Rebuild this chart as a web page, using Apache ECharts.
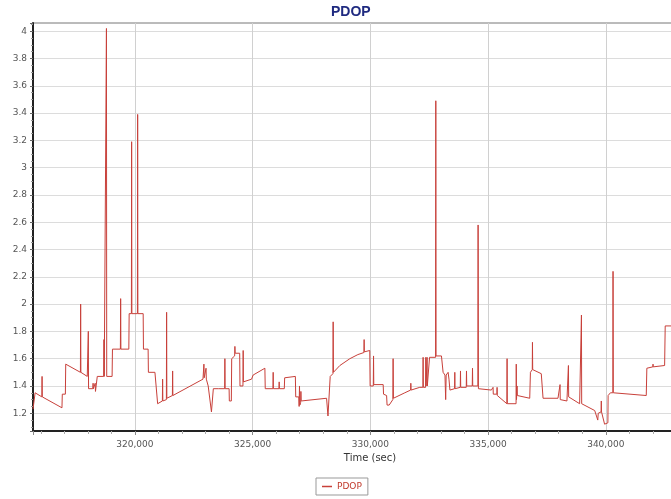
<!DOCTYPE html>
<html>
<head>
<meta charset="utf-8">
<script src="https://cdn.jsdelivr.net/npm/echarts@6/dist/echarts.min.js"></script>
<style>
html,body{margin:0;padding:0;background:#fff;overflow:hidden;width:671px;height:499px;}
#chart{width:720px;height:499px;}
</style>
</head>
<body>
<div id="chart"></div>
<script>
const chartTitle = 'PDOP';
const seriesName = 'PDOP';
const xAxisName = 'Time (sec)';
const timeSec = [
315670,315745,315760,316045,316055,316065,316900,316915,317045,317060,
317684,317694,317704,317975,318010,318020,318030,318210,318222,318234,
318300,318312,318324,318385,318400,318672,318684,318696,318778,318790,
318802,319030,319045,319382,319393,319404,319740,319755,319850,319860,
319870,320105,320115,320125,320350,320362,320560,320572,320849,320964,
321166,321176,321186,321336,321346,321356,321591,321601,321611,322890,
322930,322942,323010,323020,323032,323100,323112,323250,323330,323540,
323810,323821,323832,324000,324010,324095,324110,324235,324246,324258,
324450,324462,324588,324598,324608,324955,325020,325520,325535,325862,
325872,325882,326117,326127,326137,326345,326360,326815,326830,326960,
326975,326990,327005,327040,327050,327062,327146,328140,328200,328295,
328410,328420,328432,328705,329130,329470,329726,329736,329746,329975,
329990,330125,330135,330145,330545,330560,330690,330710,330800,330955,
330967,330980,331464,331710,331719,331730,332100,332230,332241,332252,
332346,332356,332366,332400,332410,332420,332500,332515,332770,332780,
332790,333020,333090,333170,333200,333220,333295,333303,333340,333380,
333577,333587,333597,333819,333829,333839,334074,334084,334094,334329,
334339,334349,334567,334577,334590,335140,335205,335213,335222,335375,
335383,335393,335798,335808,335818,336190,336198,336208,336232,336245,
336770,336800,336878,336886,336896,337260,337336,337970,338050,338058,
338066,338350,338406,338414,338424,338890,338958,338967,338977,339530,
339660,339680,339800,339810,339820,339950,340090,340100,340198,340300,
340309,340320,341720,341745,342000,342007,342015,342500,342525,344300
];
const pdop = [
1.23,1.23,1.35,1.32,1.47,1.32,1.24,1.34,1.34,1.56,
1.50,2.00,1.50,1.47,1.47,1.80,1.38,1.38,1.42,1.38,
1.38,1.42,1.36,1.36,1.47,1.47,1.74,1.47,1.47,4.02,
1.47,1.47,1.67,1.67,2.04,1.67,1.67,1.93,1.93,3.19,
1.93,1.93,3.39,1.93,1.93,1.67,1.67,1.50,1.50,1.27,
1.29,1.45,1.29,1.30,1.94,1.31,1.33,1.51,1.33,1.45,
1.56,1.46,1.47,1.53,1.45,1.44,1.40,1.21,1.38,1.38,
1.38,1.60,1.38,1.38,1.29,1.29,1.60,1.62,1.69,1.64,
1.64,1.40,1.40,1.66,1.43,1.45,1.48,1.53,1.38,1.38,
1.50,1.38,1.38,1.43,1.38,1.38,1.46,1.47,1.32,1.32,
1.25,1.40,1.26,1.28,1.36,1.29,1.30,1.31,1.18,1.47,
1.49,1.87,1.50,1.55,1.60,1.63,1.645,1.74,1.65,1.66,
1.40,1.40,1.62,1.41,1.41,1.34,1.33,1.26,1.26,1.30,
1.60,1.31,1.35,1.37,1.42,1.37,1.39,1.39,1.61,1.39,
1.39,1.61,1.40,1.40,1.61,1.40,1.40,1.61,1.61,3.49,
1.62,1.62,1.50,1.48,1.30,1.48,1.48,1.50,1.45,1.37,
1.38,1.50,1.38,1.39,1.51,1.39,1.39,1.51,1.40,1.40,
1.53,1.40,1.40,2.58,1.38,1.37,1.37,1.39,1.34,1.34,
1.39,1.33,1.27,1.60,1.27,1.27,1.56,1.30,1.40,1.33,
1.31,1.50,1.52,1.72,1.52,1.49,1.31,1.31,1.31,1.41,
1.30,1.29,1.29,1.55,1.32,1.27,1.27,1.92,1.27,1.22,
1.15,1.20,1.21,1.29,1.21,1.12,1.13,1.33,1.35,1.35,
2.24,1.35,1.33,1.53,1.54,1.56,1.54,1.55,1.84,1.84
];
const xMin = 315670, xMax = 344300;
const yMin = 1.07, yMax = 4.06;

const data = timeSec.map((t, i) => [t, pdop[i]]);
const chart = echarts.init(document.getElementById('chart'));
const labelFont = 'DejaVu Sans, Verdana, sans-serif';
chart.setOption({
  animation: false,
  backgroundColor: '#ffffff',
  title: {
    text: chartTitle,
    left: 326, top: 0,
    textStyle: { color: '#1f2a80', fontSize: 14, fontWeight: 'bold', fontFamily: 'Liberation Sans, Arial, sans-serif' }
  },
  legend: {
    data: [seriesName],
    left: 316, top: 478,
    padding: [4, 6, 4, 6],
    borderColor: '#999', borderWidth: 1,
    itemWidth: 10, itemHeight: 1.5, icon: 'rect',
    itemGap: 4,
    textStyle: { color: '#c0392b', fontSize: 9, fontFamily: labelFont }
  },
  grid: {
    left: 33, top: 23, width: 674, height: 408,
    outerBoundsMode: 'none',
    show: true, borderColor: '#777', borderWidth: 1
  },
  xAxis: {
    type: 'value', min: xMin, max: xMax, splitNumber: 6,
    name: xAxisName, nameLocation: 'middle', nameGap: 18,
    nameTextStyle: { color: '#333', fontSize: 10, fontFamily: labelFont },
    axisLine: { show: true, lineStyle: { color: '#222', width: 2 } },
    axisTick: { show: true, length: 4, lineStyle: { color: '#888' } },
    minorTick: { show: true, splitNumber: 5, length: 3, lineStyle: { color: '#aaa' } },
    axisLabel: {
      showMinLabel: false, showMaxLabel: false,
      color: '#555', fontSize: 9, fontFamily: labelFont, margin: 9,
      formatter: v => String(Math.round(v)).replace(/\B(?=(\d{3})+(?!\d))/g, ',')
    },
    splitLine: { show: true, showMinLine: false, lineStyle: { color: '#d0d0d0', width: 1 } }
  },
  yAxis: {
    type: 'value', min: yMin, max: yMax, splitNumber: 15,
    axisLine: { show: true, lineStyle: { color: '#222', width: 2 } },
    axisTick: { show: true, length: 3, lineStyle: { color: '#666' } },
    minorTick: { show: true, splitNumber: 4, length: 2, lineStyle: { color: '#999' } },
    axisLabel: {
      showMinLabel: false, showMaxLabel: false,
      color: '#555', fontSize: 9, fontFamily: labelFont, margin: 6
    },
    splitLine: { show: true, showMinLine: false, showMaxLine: false, lineStyle: { color: '#dcdcdc', width: 1 } }
  },
  series: [{
    name: seriesName,
    type: 'line',
    data: data,
    symbol: 'none',
    lineStyle: { color: '#c8403a', width: 1 },
    itemStyle: { color: '#c8403a' }
  }]
});
</script>
</body>
</html>
